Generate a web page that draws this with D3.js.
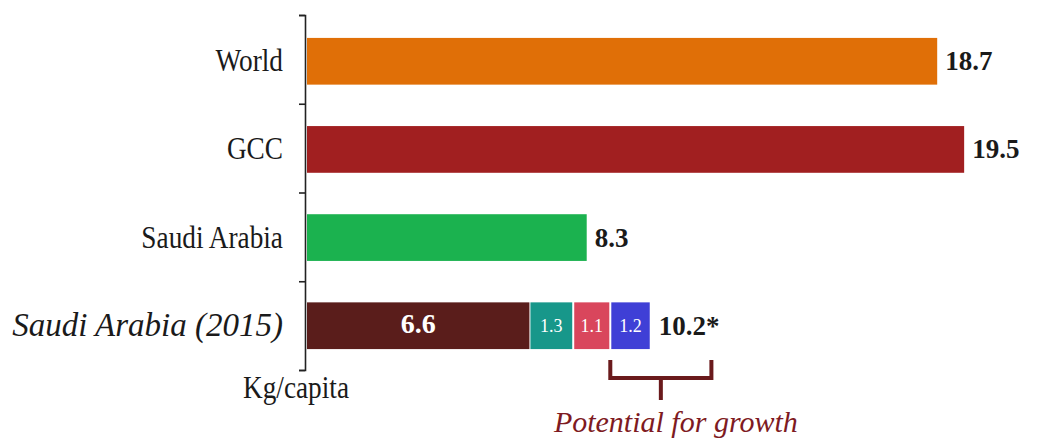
<!DOCTYPE html>
<html><head><meta charset="utf-8">
<script src="https://cdn.jsdelivr.net/npm/d3@7"></script>
<style>body{margin:0;background:#fff}svg{display:block}</style>
</head><body><svg id="c" width="1037" height="442"></svg>
<script>
const categories = ["World", "GCC", "Saudi Arabia", "Saudi Arabia (2015)"];
const totals = [18.7, 19.5, 8.3, 10.2];
const totalLabels = ["18.7", "19.5", "8.3", "10.2*"];
const barColors = ["#e06f07", "#a11f20", "#1bb24f", null];
const segValues = [6.6, 1.3, 1.1, 1.2];
const segLabels = ["6.6", "1.3", "1.1", "1.2"];
const segColors = ["#5a1d1b", "#17978a", "#d9465c", "#3f3fd6"];
const growthRange = [9.0, 12.0];
const growthLabel = "Potential for growth";
const unitLabel = "Kg/capita";

const svg = d3.select("#c");
svg.append("rect").attr("width",1037).attr("height",442).attr("fill","#fff");
const x = d3.scaleLinear().domain([0, 20]).range([307, 981]);
const y = d3.scaleBand().domain(categories).range([15, 372]).paddingInner(0.47).paddingOuter(0.26);
const serif = "'Liberation Serif', 'DejaVu Serif', serif";

// axis
const axis = d3.axisLeft(d3.scaleLinear().domain([0,4]).range([15,370])).ticks(4).tickSize(6).tickFormat("");
const ag = svg.append("g").attr("transform","translate(305,0)").call(axis);
ag.select(".domain").attr("stroke","#222").attr("stroke-width",1.6);
ag.selectAll(".tick line").attr("stroke","#222").attr("stroke-width",1.6);

// category labels
svg.selectAll("text.cat").data(categories).enter().append("text")
  .attr("class","cat")
  .attr("x",283).attr("y",(d,i)=>y(d)+y.bandwidth()/2+(i===3?10:10))
  .attr("text-anchor","end")
  .attr("font-family",serif)
  .attr("font-size",(d,i)=>i===3?33:31)
  .attr("font-style",(d,i)=>i===3?"italic":"normal")
  .attr("fill","#1a1a1a")
  .attr("transform",(d,i)=>i===3?null:`translate(283,0) scale(0.88,1) translate(-283,0)`)
  .text(d=>d);

// simple bars
svg.selectAll("rect.bar").data(categories.slice(0,3)).enter().append("rect")
  .attr("x",x(0)).attr("y",d=>y(d)).attr("height",y.bandwidth())
  .attr("width",(d,i)=>x(totals[i])-x(0)).attr("fill",(d,i)=>barColors[i]);

// stacked bar
const cum = d3.cumsum(segValues);
const segs = segValues.map((v,i)=>({v, s: cum[i]-v, e: cum[i], i}));
const yb = y(categories[3]);
svg.selectAll("rect.seg").data(segs).enter().append("rect")
  .attr("x",d=>x(d.s)+(d.i?1:0)).attr("y",yb).attr("height",y.bandwidth())
  .attr("width",d=>x(d.e)-x(d.s)-(d.i?2:0)).attr("fill",d=>segColors[d.i]);
svg.selectAll("text.seg").data(segs).enter().append("text")
  .attr("x",d=>(x(d.s)+x(d.e))/2).attr("y",d=>yb+y.bandwidth()/2+(d.i?6:7))
  .attr("text-anchor","middle").attr("font-family",serif)
  .attr("font-size",d=>d.i?18:28).attr("font-weight",d=>d.i?"normal":"bold")
  .attr("fill","#fff").text(d=>segLabels[d.i]);

// value labels
svg.selectAll("text.val").data(categories).enter().append("text")
  .attr("x",(d,i)=>x(totals[i])+8).attr("y",d=>y(d)+y.bandwidth()/2+9)
  .attr("font-family",serif).attr("font-weight","bold").attr("font-size",27)
  .attr("fill","#1a1a1a").text((d,i)=>totalLabels[i]);

// unit label
svg.append("text").attr("x",296).attr("y",398).attr("text-anchor","middle")
  .attr("font-family",serif).attr("font-size",31).attr("fill","#1a1a1a")
  .attr("transform","translate(296,0) scale(0.88,1) translate(-296,0)")
  .text(unitLabel);

// bracket
const bx0 = x(growthRange[0]), bx1 = x(growthRange[1]), bxm = (bx0+bx1)/2;
svg.append("path")
  .attr("d",`M${bx0},360 V378 H${bx1} V360 M${bxm},378 V400`)
  .attr("fill","none").attr("stroke","#6a1a1c").attr("stroke-width",4);
svg.append("text").attr("x",bxm+15).attr("y",432).attr("text-anchor","middle")
  .attr("font-family",serif).attr("font-style","italic").attr("font-size",30)
  .attr("fill","#7e1a22").text(growthLabel);
</script></body></html>
